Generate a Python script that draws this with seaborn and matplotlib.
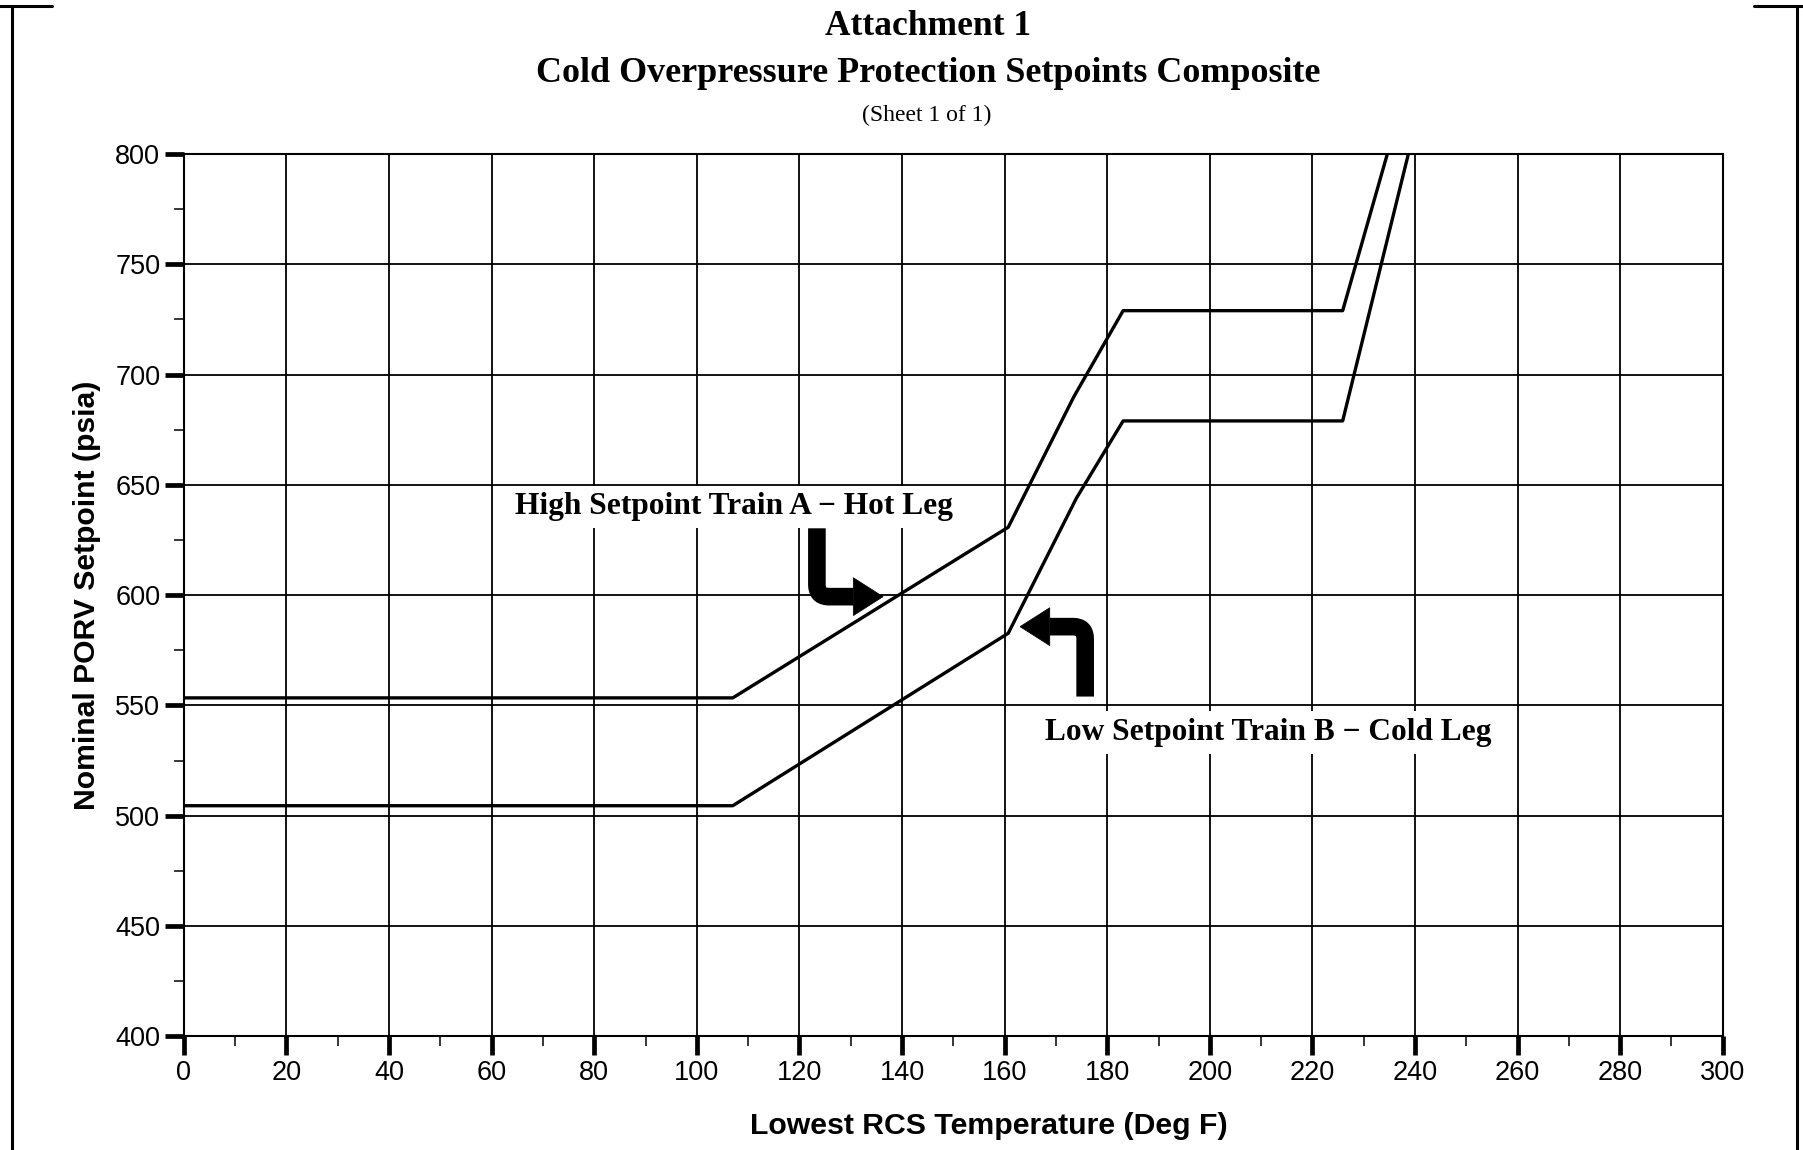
import seaborn as sns
import matplotlib.pyplot as plt
import pandas as pd
from matplotlib.patches import FancyArrowPatch, Polygon
from matplotlib.lines import Line2D

# Curve data read from the sheet
high_temp = [0, 107, 160.7, 173.5, 183.1, 225.9, 234.6]
high_psia = [553.4, 553.4, 630.8, 690, 729, 729, 800]
low_temp = [0, 107, 160.7, 174, 183.1, 225.9, 238.7]
low_psia = [504.5, 504.5, 582.7, 644, 679, 679, 800]

x_ticks = list(range(0, 301, 20))
y_ticks = list(range(400, 801, 50))

high_label = "High Setpoint Train A \u2212 Hot Leg"
low_label = "Low Setpoint Train B \u2212 Cold Leg"

sns.set_style("ticks")
plt.rcParams['font.family'] = ['Liberation Sans', 'DejaVu Sans']
plt.rcParams['text.color'] = 'black'
plt.rcParams['axes.labelcolor'] = 'black'
plt.rcParams['xtick.color'] = 'black'
plt.rcParams['ytick.color'] = 'black'

df = pd.concat([
    pd.DataFrame({"temp": high_temp, "psia": high_psia, "train": "A"}),
    pd.DataFrame({"temp": low_temp, "psia": low_psia, "train": "B"}),
])

fig = plt.figure(figsize=(18.03, 11.5), dpi=100)
ax = fig.add_axes([0.102, 0.099, 0.8535, 0.767])

sns.lineplot(data=df, x="temp", y="psia", hue="train", palette={"A": "black", "B": "black"},
             estimator=None, sort=False, legend=False, linewidth=2.4, ax=ax, zorder=3)

ax.set_xlim(0, 300)
ax.set_ylim(400, 800)
ax.set_xticks(x_ticks)
ax.set_yticks(y_ticks)
ax.set_xticks(range(0, 301, 10), minor=True)
ax.set_yticks(range(400, 801, 25), minor=True)
ax.grid(True, which="major", color="black", linewidth=1.3)
ax.set_axisbelow(True)
for s in ax.spines.values():
    s.set_color("black")
    s.set_linewidth(1.5)
ax.tick_params(which="major", direction="out", length=14, width=3.4, color="black",
               labelsize=19.5, pad=3)
ax.tick_params(which="minor", direction="out", length=7, width=1.1, color="black")

ax.set_xlabel("Lowest RCS Temperature (Deg F)", fontsize=21.8, fontweight="bold")
ax.set_ylabel("Nominal PORV Setpoint (psia)", fontsize=21.7, fontweight="bold", labelpad=10)
ax.xaxis.set_label_coords(0.523, -0.086)

# titles
serif = ['Liberation Serif', 'DejaVu Serif']
fig.text(0.515, 0.977, "Attachment 1", ha="center", va="center", fontsize=25.5,
         fontweight="bold", family=serif)
fig.text(0.515, 0.936, "Cold Overpressure Protection Setpoints Composite", ha="center",
         va="center", fontsize=25.9, fontweight="bold", family=serif)
fig.text(0.514, 0.900, "(Sheet 1 of 1)", ha="center", va="center", fontsize=17, family=serif)

# curve labels
box = dict(facecolor="white", edgecolor="none", pad=5)
ax.text(107.2, 640, high_label, ha="center", va="center", fontsize=22.6, fontweight="bold",
        family=serif, bbox=box, zorder=4)
ax.text(211.4, 537.7, low_label, ha="center", va="center", fontsize=22.6, fontweight="bold",
        family=serif, bbox=box, zorder=4)

# bent arrows
hot_start, hot_base, hot_tip = (123.4, 630.3), (130.5, 599.3), 136.3
cold_start, cold_base, cold_tip = (175.7, 554), (168.8, 585.7), 163.0
half_h = 8.6
for start, base, tip in [(hot_start, hot_base, hot_tip), (cold_start, cold_base, cold_tip)]:
    stem = FancyArrowPatch(posA=start, posB=base, arrowstyle="-",
                           connectionstyle="angle,angleA=90,angleB=0,rad=12",
                           shrinkA=0, shrinkB=0, linewidth=12.7, color="black",
                           capstyle="butt", zorder=5)
    ax.add_patch(stem)
    head = Polygon([(base[0], base[1] - half_h), (base[0], base[1] + half_h), (tip, base[1])],
                   closed=True, facecolor="black", edgecolor="black", linewidth=0.5, zorder=5)
    ax.add_patch(head)

# page frame
for xs, ys in [([0.0065, 0.0065], [0.0, 0.995]), ([0.9965, 0.9965], [0.0, 0.995]),
               ([0.0, 0.029], [0.995, 0.995]), ([0.973, 1.0], [0.995, 0.995])]:
    fig.add_artist(Line2D(xs, ys, color="black", linewidth=2.2, transform=fig.transFigure))

fig.savefig("out.png", dpi=100, facecolor="white")
